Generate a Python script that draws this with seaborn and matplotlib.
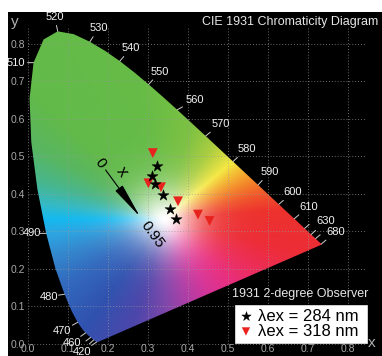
import numpy as np
import matplotlib
matplotlib.use("Agg")
import matplotlib.pyplot as plt
import seaborn as sns
from matplotlib.patches import Polygon, FancyArrowPatch

# CIE 1931 2-degree observer spectral locus, 5 nm steps
locus_nm = [380, 385, 390, 395, 400, 405, 410, 415, 420, 425, 430, 435, 440, 445,
            450, 455, 460, 465, 470, 475, 480, 485, 490, 495, 500, 505, 510, 515,
            520, 525, 530, 535, 540, 545, 550, 555, 560, 565, 570, 575, 580, 585,
            590, 595, 600, 605, 610, 615, 620, 625, 630, 635, 640, 645, 650, 655,
            660, 665, 670, 675, 680, 700]
locus_x = [0.1741, 0.1740, 0.1738, 0.1736, 0.1733, 0.1730, 0.1726, 0.1721, 0.1714,
           0.1703, 0.1689, 0.1669, 0.1644, 0.1611, 0.1566, 0.1510, 0.1440, 0.1355,
           0.1241, 0.1096, 0.0913, 0.0687, 0.0454, 0.0235, 0.0082, 0.0039, 0.0139,
           0.0389, 0.0743, 0.1142, 0.1547, 0.1929, 0.2296, 0.2658, 0.3016, 0.3373,
           0.3731, 0.4087, 0.4441, 0.4788, 0.5125, 0.5448, 0.5752, 0.6029, 0.6270,
           0.6482, 0.6658, 0.6801, 0.6915, 0.7006, 0.7079, 0.7140, 0.7190, 0.7230,
           0.7260, 0.7283, 0.7300, 0.7311, 0.7320, 0.7327, 0.7334, 0.7347]
locus_y = [0.0050, 0.0050, 0.0049, 0.0049, 0.0048, 0.0048, 0.0048, 0.0048, 0.0051,
           0.0058, 0.0069, 0.0086, 0.0109, 0.0138, 0.0177, 0.0227, 0.0297, 0.0399,
           0.0578, 0.0868, 0.1327, 0.2007, 0.2950, 0.4127, 0.5384, 0.6548, 0.7502,
           0.8120, 0.8338, 0.8262, 0.8059, 0.7816, 0.7543, 0.7243, 0.6923, 0.6589,
           0.6245, 0.5896, 0.5547, 0.5202, 0.4866, 0.4544, 0.4242, 0.3965, 0.3725,
           0.3514, 0.3340, 0.3197, 0.3083, 0.2993, 0.2920, 0.2859, 0.2809, 0.2770,
           0.2740, 0.2717, 0.2700, 0.2689, 0.2680, 0.2673, 0.2666, 0.2653]

# wavelengths carrying a printed label, and extra unlabelled marks
label_nm = [420, 460, 470, 480, 490, 510, 520, 530, 540, 550, 560, 570, 580,
            590, 600, 610, 630, 680]
mark_nm = [440, 450, 620, 640]

# measured chromaticities
star_x = [0.323, 0.309, 0.318, 0.3375, 0.356, 0.370]
star_y = [0.475, 0.449, 0.426, 0.397, 0.360, 0.334]
tri_x = [0.312, 0.301, 0.3325, 0.375, 0.425, 0.454]
tri_y = [0.509, 0.4285, 0.418, 0.3805, 0.345, 0.328]
series_labels = ["λex = 284 nm", "λex = 318 nm"]

grid_ticks = [0.0, 0.1, 0.2, 0.3, 0.4, 0.5, 0.6, 0.7, 0.8]

sns.set_theme(style="dark")
plt.rcParams["font.family"] = ["Liberation Sans", "DejaVu Sans"]

W, H = 382, 356
fig = plt.figure(figsize=(W / 100, H / 100), dpi=100, facecolor="white")
ax = fig.add_axes([8 / W, 0, (W - 8) / W, (H - 12) / H])
ax.set_facecolor("black")
for s in ax.spines.values():
    s.set_visible(False)
ax.set_xlim(-0.05, 0.885)
ax.set_ylim(-0.032, 0.8853)

# colour fill: hue by direction around the white point, fading to white
wx, wy = 0.342, 0.333
hue_deg = [-180, -172, -160, -145, -125, -105, -90, -75, -60, -45, -30, -15,
           5, 15, 25, 35, 42, 48, 58, 75, 100, 135, 150, 162, 172, 180]
hue_rgb = [(20, 185, 240), (45, 165, 225), (52, 135, 205), (50, 105, 190),
           (48, 82, 175), (78, 70, 170), (125, 70, 170), (175, 60, 165),
           (215, 50, 150), (232, 45, 125), (236, 45, 88), (236, 45, 55),
           (237, 50, 45), (240, 85, 42), (243, 135, 40), (243, 190, 50),
           (245, 232, 65), (215, 220, 62), (170, 205, 62), (125, 193, 66),
           (102, 188, 70), (98, 186, 74), (88, 182, 98), (72, 182, 140),
           (55, 185, 195), (20, 185, 240)]
gx = np.linspace(0.0, 0.75, 520)
gy = np.linspace(0.0, 0.85, 600)
XX, YY = np.meshgrid(gx, gy)
ang = np.degrees(np.arctan2(YY - wy, XX - wx))
hr = np.array(hue_rgb, dtype=float) / 255.0
rgb = np.stack([np.interp(ang, hue_deg, hr[:, k]) for k in range(3)], axis=-1)
r = np.hypot(XX - wx, YY - wy)
w = np.exp(-(r / 0.085) ** 1.6)[..., None]
rgb = np.clip(w + (1 - w) * rgb, 0, 1)

poly = Polygon(np.column_stack([locus_x, locus_y]), closed=True,
               facecolor="none", edgecolor="none", transform=ax.transData)
ax.add_patch(poly)
img = ax.imshow(rgb, extent=(gx[0], gx[-1], gy[0], gy[-1]), origin="lower",
                interpolation="bilinear", aspect="auto", zorder=1)
img.set_clip_path(poly)

# dotted grid
gcol = "#9a9a9a"
ax.vlines(grid_ticks, 0, 0.843, colors=gcol, linestyles=(0, (1, 2)), lw=0.7,
          alpha=0.7, zorder=2)
ax.hlines(grid_ticks, 0, 0.8425, colors=gcol, linestyles=(0, (1, 2)), lw=0.7,
          alpha=0.7, zorder=2)

# tick labels inside the black frame
ax.set_xticks(grid_ticks)
ax.set_yticks(grid_ticks)
ax.set_xticklabels([f"{t:.1f}" for t in grid_ticks])
ax.set_yticklabels([f"{t:.1f}" for t in grid_ticks])
ax.tick_params(axis="x", length=0, pad=-9, labelsize=7.5, labelcolor="#a8a8a8")
ax.tick_params(axis="y", length=0, pad=-12.5, labelsize=7.5, labelcolor="#a8a8a8")
ax.grid(False)
ax.text(15, H - 22, "y", transform=None, fontsize=11, color="#b0b0b0",
        ha="center", va="center")
ax.text(372, H - 343, "x", transform=None, fontsize=11, color="#b0b0b0",
        ha="center", va="center")

# wavelength marks and labels
lab_off = {520: (-3, 14), 530: (9, 14), 540: (11, 13), 550: (11, 12),
           560: (18, 10), 570: (15, 12), 580: (14, 13), 590: (12, 13),
           600: (14, 12), 610: (14, 12), 630: (14.5, 13.5), 680: (14, 12),
           510: (-17.6, 0), 490: (-14.5, 0), 480: (-16, -2.5), 470: (-16, -9),
           460: (-14, -10), 420: (-15, -10)}
mark_off = {440: (-12, -11), 450: (-13, -10), 620: (14, 12), 640: (14, 12)}
for nm in label_nm + mark_nm:
    i = locus_nm.index(nm)
    px, py = locus_x[i], locus_y[i]
    dx, dy = lab_off.get(nm, mark_off.get(nm))
    n = np.hypot(dx, dy)
    ax.annotate("", xy=(px, py), xytext=(dx / n * 6, dy / n * 6),
                textcoords="offset pixels",
                arrowprops=dict(arrowstyle="-", color="#cfcfcf", lw=0.7,
                                shrinkA=0, shrinkB=0), zorder=3)
    if nm in label_nm:
        ax.annotate(str(nm), xy=(px, py), xytext=(dx, dy),
                    textcoords="offset pixels", ha="center", va="center",
                    fontsize=8, color="#f2f2f2", zorder=4)

# 0 -> 0.95 scale arrow
arrow = FancyArrowPatch((0.194, 0.464), (0.28, 0.3395),
                        arrowstyle="-|>,head_length=2.2,head_width=0.28",
                        mutation_scale=10, color="black", lw=0.8,
                        shrinkA=0, shrinkB=0, zorder=4)
ax.add_patch(arrow)
ax.text(0.18, 0.4835, "0", rotation=-54, fontsize=11, color="black",
        ha="center", va="center", zorder=4)
ax.text(0.234, 0.4595, "x", rotation=-54, fontsize=12, color="black",
        ha="center", va="center", zorder=4)
ax.text(0.31, 0.291, "0.95", rotation=-54, fontsize=11, color="black",
        ha="center", va="center", zorder=4)

# measured points
sns.scatterplot(x=star_x, y=star_y, marker="*", color="black", s=70,
                edgecolor="black", linewidth=0.3, ax=ax, zorder=6,
                label=series_labels[0])
sns.scatterplot(x=tri_x, y=tri_y, marker="v", color="#e8231d", s=50,
                edgecolor="none", linewidth=0, ax=ax, zorder=5,
                label=series_labels[1])

ax.text(290, H - 22, "CIE 1931 Chromaticity Diagram", transform=None,
        fontsize=9, color="#e6e6e6", ha="center", va="center")
ax.text(300, H - 294, "1931 2-degree Observer", transform=None,
        fontsize=9, color="#e6e6e6", ha="center", va="center")

leg = ax.legend(loc="lower right", bbox_to_anchor=(0.96, 0.0378),
                frameon=True, fancybox=False, framealpha=1,
                facecolor="white", edgecolor="#dddddd", fontsize=12,
                handletextpad=0.3, borderpad=0.25, labelspacing=0.0,
                handlelength=0.8, borderaxespad=0, markerscale=0.85)
leg.get_frame().set_linewidth(0.6)
leg._legend_box.align = "left"
for t in leg.get_texts():
    t.set_color("black")
# widen the frame to the right like a padded text box
leg.set_bbox_to_anchor((0.96, 0.0378), transform=ax.transAxes)
for txt in leg.get_texts():
    txt.set_text(txt.get_text() + " ")

fig.savefig("out.png", dpi=100, facecolor="white")
